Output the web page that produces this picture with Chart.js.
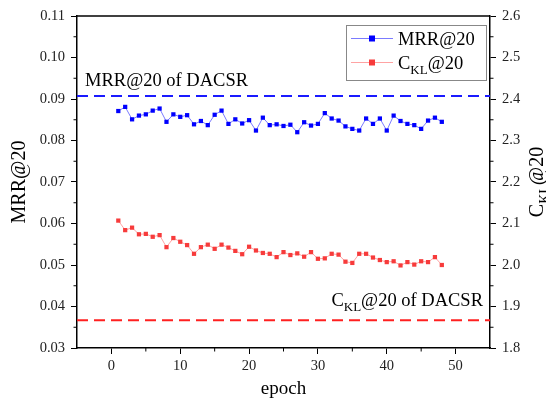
<!DOCTYPE html>
<html>
<head>
<meta charset="utf-8">
<script src="https://cdn.jsdelivr.net/npm/chart.js@4/dist/chart.umd.min.js"></script>
<style>
html, body { margin: 0; padding: 0; background: #fff; }
</style>
</head>
<body>
<canvas id="chart" width="546" height="404"></canvas>
<script>
// Data
const epochs = [1, 2, 3, 4, 5, 6, 7, 8, 9, 10, 11, 12, 13, 14, 15, 16, 17, 18, 19, 20, 21, 22, 23, 24,
  25, 26, 27, 28, 29, 30, 31, 32, 33, 34, 35, 36, 37, 38, 39, 40, 41, 42, 43, 44, 45, 46, 47, 48];
const mrr = [0.0871, 0.0881, 0.0851, 0.0860, 0.0863, 0.0872, 0.0877, 0.0845, 0.0863, 0.0857, 0.0861, 0.0839,
  0.0847, 0.0837, 0.0862, 0.0872, 0.0840, 0.0851, 0.0841, 0.0849, 0.0824, 0.0855, 0.0837, 0.0839,
  0.0835, 0.0838, 0.0820, 0.0844, 0.0836, 0.0840, 0.0866, 0.0853, 0.0848, 0.0834, 0.0828, 0.0824,
  0.0853, 0.0840, 0.0853, 0.0824, 0.0860, 0.0847, 0.0840, 0.0837, 0.0828, 0.0848, 0.0855, 0.0845];
const ckl = [2.107, 2.084, 2.090, 2.074, 2.075, 2.068, 2.072, 2.043, 2.065, 2.056, 2.048, 2.027,
  2.043, 2.049, 2.039, 2.049, 2.042, 2.034, 2.026, 2.044, 2.035, 2.029, 2.027, 2.019,
  2.031, 2.024, 2.028, 2.020, 2.031, 2.015, 2.016, 2.027, 2.025, 2.008, 2.005, 2.027,
  2.027, 2.018, 2.012, 2.007, 2.009, 1.999, 2.007, 2.001, 2.009, 2.007, 2.019, 2.000];

// baselines (DACSR)
const mrrDacsr = 0.0907;
const cklDacsr = 1.867;
const xRange = [-5, 55];

// axis ticks
const xTicks = [0, 10, 20, 30, 40, 50];
const xMinor = [5, 15, 25, 35, 45];
const leftTicks = [0.03, 0.04, 0.05, 0.06, 0.07, 0.08, 0.09, 0.10, 0.11];
const leftMinor = [0.035, 0.045, 0.055, 0.065, 0.075, 0.085, 0.095, 0.105];
const rightTicks = [1.8, 1.9, 2.0, 2.1, 2.2, 2.3, 2.4, 2.5, 2.6];
const rightMinor = [1.85, 1.95, 2.05, 2.15, 2.25, 2.35, 2.45, 2.55];

const SERIF = '"Liberation Serif", "Times New Roman", serif';
const BLUE = '#0000ff';
const BLUE_LINE = '#7b7bff';
const RED = '#f73b3b';
const RED_LINE = '#ffa3a3';

// draw a label with subscripts: parts = [[text, isSub], ...]
function drawParts(ctx, parts, x, y, size, align) {
  const sub = Math.round(size * 0.72);
  let total = 0;
  parts.forEach(([t, s]) => {
    ctx.font = (s ? sub : size) + 'px ' + SERIF;
    total += ctx.measureText(t).width;
  });
  let cx = align === 'right' ? x - total : align === 'center' ? x - total / 2 : x;
  ctx.textAlign = 'left';
  ctx.textBaseline = 'alphabetic';
  parts.forEach(([t, s]) => {
    ctx.font = (s ? sub : size) + 'px ' + SERIF;
    ctx.fillText(t, cx, y + (s ? size * 0.28 : 0));
    cx += ctx.measureText(t).width;
  });
}

const decor = {
  id: 'decor',
  afterDraw(c) {
    const ctx = c.ctx;
    const a = c.chartArea;
    const x = c.scales.x, y = c.scales.y, y1 = c.scales.y1;
    ctx.save();

    // top frame line
    ctx.strokeStyle = '#000';
    ctx.lineWidth = 1.5;
    ctx.beginPath();
    ctx.moveTo(a.left, a.top);
    ctx.lineTo(a.right, a.top);
    ctx.stroke();

    // minor ticks
    ctx.lineWidth = 1;
    ctx.beginPath();
    xMinor.forEach(v => { const px = x.getPixelForValue(v); ctx.moveTo(px, a.bottom); ctx.lineTo(px, a.bottom + 3.5); });
    leftMinor.forEach(v => { const py = y.getPixelForValue(v); ctx.moveTo(a.left, py); ctx.lineTo(a.left - 3.5, py); });
    rightMinor.forEach(v => { const py = y1.getPixelForValue(v); ctx.moveTo(a.right, py); ctx.lineTo(a.right + 3.5, py); });
    ctx.stroke();

    // baseline annotations
    ctx.fillStyle = '#000';
    drawParts(ctx, [['MRR@20 of DACSR', false]], a.left + 8, y.getPixelForValue(mrrDacsr) - 10, 18.5, 'left');
    drawParts(ctx, [['C', false], ['KL', true], ['@20 of DACSR', false]], a.right - 7, y1.getPixelForValue(cklDacsr) - 14, 18.5, 'right');

    // legend
    const lx = 346, ly = 25, lw = 140, lh = 55;
    ctx.fillStyle = '#fff';
    ctx.fillRect(lx, ly, lw, lh);
    ctx.strokeStyle = '#888';
    ctx.lineWidth = 1;
    ctx.strokeRect(lx + 0.5, ly + 0.5, lw, lh);
    const items = [
      { line: BLUE_LINE, mark: BLUE, parts: [['MRR@20', false]], y: 38.5 },
      { line: RED_LINE, mark: RED, parts: [['C', false], ['KL', true], ['@20', false]], y: 62.5 }
    ];
    items.forEach(it => {
      ctx.strokeStyle = it.line;
      ctx.beginPath();
      ctx.moveTo(351, it.y);
      ctx.lineTo(393, it.y);
      ctx.stroke();
      ctx.fillStyle = it.mark;
      ctx.fillRect(369, it.y - 3, 6, 6);
      ctx.fillStyle = '#000';
      drawParts(ctx, it.parts, 398, it.y + 6, 18.5, 'left');
    });

    // right axis title (rotated, with subscript)
    ctx.translate(543, (a.top + a.bottom) / 2);
    ctx.rotate(-Math.PI / 2);
    ctx.fillStyle = '#000';
    drawParts(ctx, [['C', false], ['KL', true], ['@20', false]], 0, 0, 20, 'center');
    ctx.restore();
  }
};

const tickFont = { family: SERIF, size: 14.5 };

new Chart(document.getElementById('chart'), {
  type: 'line',
  data: {
    datasets: [
      {
        label: 'MRR@20',
        data: epochs.map((e, i) => ({ x: e, y: mrr[i] })),
        yAxisID: 'y',
        borderColor: BLUE_LINE,
        borderWidth: 1,
        pointStyle: 'rect',
        pointRadius: 3,
        pointBackgroundColor: BLUE,
        pointBorderColor: BLUE,
        pointBorderWidth: 0
      },
      {
        label: 'CKL@20',
        data: epochs.map((e, i) => ({ x: e, y: ckl[i] })),
        yAxisID: 'y1',
        borderColor: RED_LINE,
        borderWidth: 1,
        pointStyle: 'rect',
        pointRadius: 3,
        pointBackgroundColor: RED,
        pointBorderColor: RED,
        pointBorderWidth: 0
      },
      {
        label: 'MRR@20 of DACSR',
        data: xRange.map(v => ({ x: v, y: mrrDacsr })),
        yAxisID: 'y',
        borderColor: '#1a1aff',
        borderWidth: 2,
        borderDash: [11, 6],
        pointRadius: 0
      },
      {
        label: 'CKL@20 of DACSR',
        data: xRange.map(v => ({ x: v, y: cklDacsr })),
        yAxisID: 'y1',
        borderColor: '#ff2020',
        borderWidth: 2,
        borderDash: [11, 6],
        pointRadius: 0
      }
    ]
  },
  options: {
    responsive: false,
    animation: false,
    layout: { padding: { top: 16, left: 0, right: 0, bottom: 0 } },
    plugins: { legend: { display: false }, tooltip: { enabled: false } },
    scales: {
      x: {
        type: 'linear',
        min: xRange[0],
        max: xRange[1],
        afterBuildTicks: s => { s.ticks = xTicks.map(v => ({ value: v })); },
        afterFit: s => { s.height = 56; },
        ticks: { color: '#222', font: tickFont, padding: 3 },
        grid: { drawOnChartArea: false, tickLength: 6, color: '#000' },
        border: { color: '#000', width: 1.5 },
        title: { display: true, text: 'epoch', color: '#000', font: { family: SERIF, size: 19 }, padding: { top: 0 } }
      },
      y: {
        position: 'left',
        min: 0.03,
        max: 0.11,
        afterBuildTicks: s => { s.ticks = leftTicks.map(v => ({ value: v })); },
        afterFit: s => { s.width = 77; },
        ticks: { color: '#222', font: tickFont, padding: 6, callback: v => v.toFixed(2) },
        grid: { drawOnChartArea: false, tickLength: 6, color: '#000' },
        border: { color: '#000', width: 1.5 },
        title: { display: true, text: 'MRR@20', color: '#000', font: { family: SERIF, size: 20 }, padding: { top: 8, bottom: 0 } }
      },
      y1: {
        position: 'right',
        min: 1.8,
        max: 2.6,
        afterBuildTicks: s => { s.ticks = rightTicks.map(v => ({ value: v })); },
        afterFit: s => { s.width = 56; },
        ticks: { color: '#222', font: tickFont, padding: 6, callback: v => v.toFixed(1) },
        grid: { drawOnChartArea: false, tickLength: 6, color: '#000' },
        border: { color: '#000', width: 1.5 }
      }
    }
  },
  plugins: [decor]
});
</script>
</body>
</html>
